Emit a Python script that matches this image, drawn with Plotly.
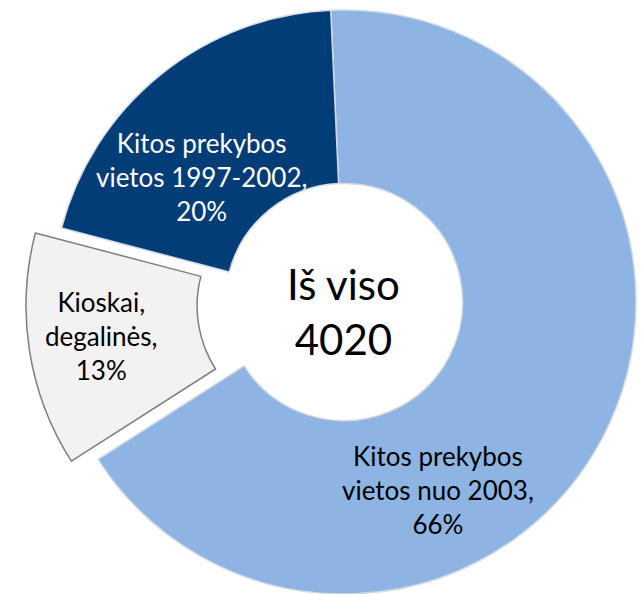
import plotly.graph_objects as go

# ---- data ----
categories = ["Kitos prekybos<br>vietos nuo 2003", "Kioskai,<br>degalinės", "Kitos prekybos<br>vietos 1997-2002"]
shares = [66, 13, 20]
total_title = "Iš viso"
total_value = 4020

# ---- style ----
W, H = 642, 594
colors = ["#8EB4E3", "#F2F2F2", "#033D78"]
text_colors = ["#000000", "#000000", "#FFFFFF"]
FONT = "Lato, 'Open Sans', sans-serif"
HOLE = 0.406
ROT = -2.6

# main ring (pixel centre / radius)
cx, cy, R = 344, 302, 292
# exploded slice (drawn by second trace, shifted along its bisector)
ex_cx, ex_cy, ex_R = 314, 306, 288


def dom(cxp, cyp, r):
    return dict(x=[(cxp - r) / W, (cxp + r) / W],
                y=[1 - (cyp + r) / H, 1 - (cyp - r) / H])


transparent = "rgba(0,0,0,0)"
explode_idx = 1

main_colors = [c if i != explode_idx else transparent for i, c in enumerate(colors)]
main_line_c = ["#D3DAE2" if i != explode_idx else transparent for i in range(len(colors))]
main_line_w = [1.5 if i != explode_idx else 0 for i in range(len(colors))]

ex_colors = [c if i == explode_idx else transparent for i, c in enumerate(colors)]
ex_line_c = ["#7F7F7F" if i == explode_idx else transparent for i in range(len(colors))]
ex_line_w = [1.5 if i == explode_idx else 0 for i in range(len(colors))]

fig = go.Figure()
fig.add_trace(go.Pie(
    labels=categories, values=shares, sort=False, direction="clockwise",
    rotation=ROT, hole=HOLE, domain=dom(cx, cy, R),
    marker=dict(colors=main_colors, line=dict(color=main_line_c, width=main_line_w)),
    textinfo="none", hoverinfo="skip", showlegend=False,
))
fig.add_trace(go.Pie(
    labels=categories, values=shares, sort=False, direction="clockwise",
    rotation=ROT, hole=HOLE, domain=dom(ex_cx, ex_cy, ex_R),
    marker=dict(colors=ex_colors, line=dict(color=ex_line_c, width=ex_line_w)),
    textinfo="none", hoverinfo="skip", showlegend=False,
))

# label placement (pixel centres of text blocks)
label_pos = [(438, 490), (101, 336), (201, 177)]
annotations = []
for lab, val, (px, py), tc in zip(categories, shares, label_pos, text_colors):
    annotations.append(dict(
        text=f"{lab},<br>{val}%", x=px / W, y=1 - py / H, xref="paper", yref="paper",
        xanchor="center", yanchor="middle", showarrow=False, align="center",
        font=dict(family=FONT, size=26, color=tc)))
annotations.append(dict(
    text=f"{total_title}<br>{total_value}", x=cx / W, y=1 - 311 / H, xref="paper", yref="paper",
    xanchor="center", yanchor="middle", showarrow=False, align="center",
    font=dict(family=FONT, size=42, color="#000000")))

fig.update_layout(
    width=W, height=H, margin=dict(l=0, r=0, t=0, b=0),
    paper_bgcolor="white", plot_bgcolor="white",
    annotations=annotations,
)
fig.write_html("out.html", config={"displayModeBar": False},
               post_script="document.body.style.margin='0';document.body.style.overflow='hidden';")
